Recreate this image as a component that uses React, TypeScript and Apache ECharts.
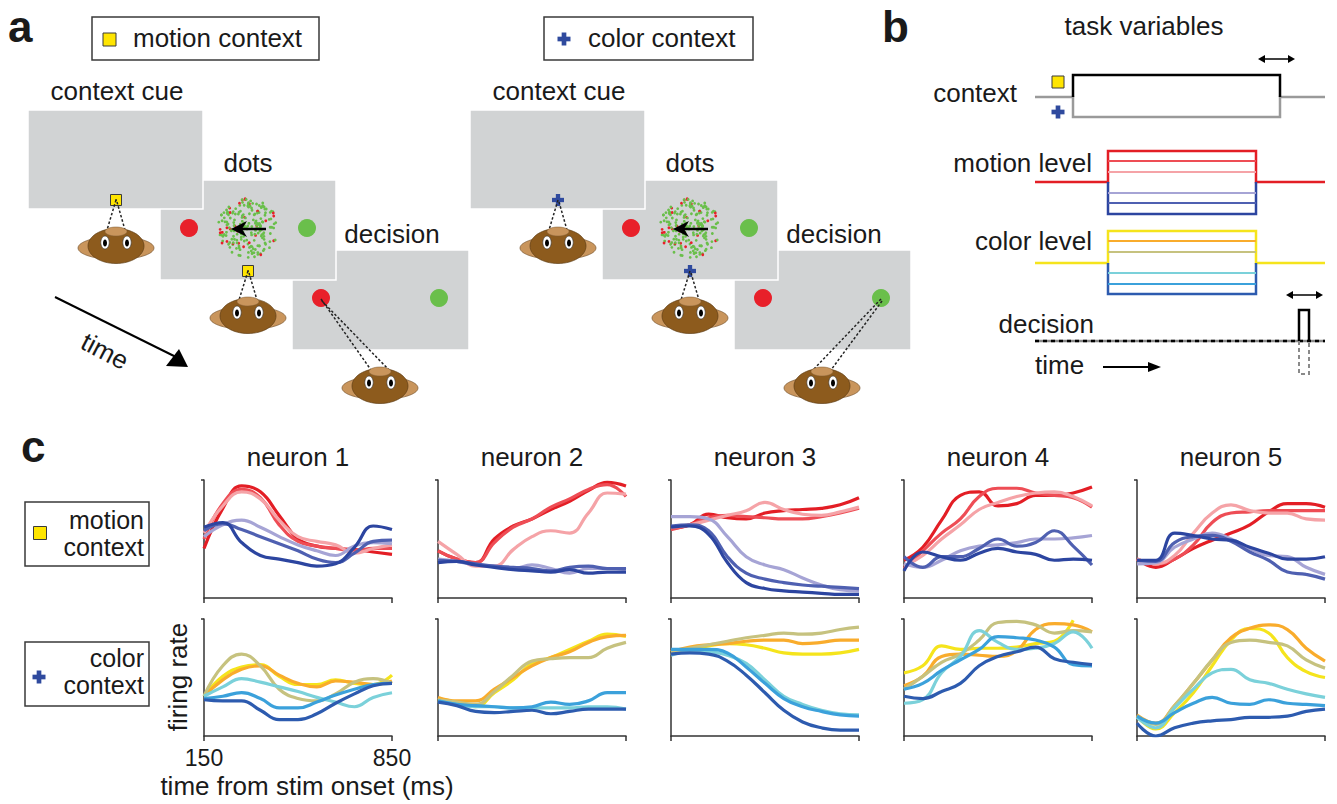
import { useEffect, useRef } from "react";
import * as echarts from "echarts";

const FONT = '"Liberation Sans", Arial, Helvetica, sans-serif';

// time axis shared by every neuron panel (ms from stimulus onset)
const timeMs = [150, 220, 290, 360, 430, 500, 570, 640, 710, 780, 850];
const timeTicks = [150, 850];
const neuronTitles = ["neuron 1", "neuron 2", "neuron 3", "neuron 4", "neuron 5"];

// motion levels: strong red, red, pink, lavender, blue, dark blue
const motionColors = ["#e31e25", "#ee4d55", "#f5a3a7", "#a6a4d5", "#4f60b1", "#2c45a0"];
// color levels: yellow, orange, khaki, cyan, light blue, dark blue
const colorColors = ["#f5e41c", "#f9ac2c", "#c6c27f", "#7bd1da", "#3ba1db", "#2d5baf"];

// normalised firing rate, one row per level (same order as the colours)
const neuron1Motion = [
  [0.42, 0.76, 0.95, 0.9, 0.7, 0.5, 0.44, 0.42, 0.41, 0.39, 0.37],
  [0.5, 0.8, 0.92, 0.85, 0.62, 0.48, 0.44, 0.42, 0.4, 0.42, 0.42],
  [0.55, 0.78, 0.9, 0.84, 0.66, 0.52, 0.48, 0.45, 0.38, 0.42, 0.45],
  [0.52, 0.62, 0.66, 0.6, 0.52, 0.45, 0.4, 0.36, 0.44, 0.47, 0.46],
  [0.57, 0.63, 0.58, 0.52, 0.46, 0.4, 0.33, 0.3, 0.38, 0.48, 0.49],
  [0.6, 0.64, 0.47, 0.36, 0.33, 0.3, 0.27, 0.29, 0.43, 0.61, 0.58],
];
const neuron1Color = [
  [0.34, 0.51, 0.59, 0.61, 0.51, 0.44, 0.44, 0.48, 0.45, 0.44, 0.52],
  [0.34, 0.48, 0.57, 0.6, 0.52, 0.45, 0.42, 0.47, 0.46, 0.44, 0.47],
  [0.34, 0.6, 0.7, 0.6, 0.4, 0.32, 0.3, 0.36, 0.46, 0.49, 0.45],
  [0.34, 0.42, 0.49, 0.46, 0.42, 0.38, 0.33, 0.29, 0.25, 0.33, 0.37],
  [0.32, 0.34, 0.37, 0.32, 0.24, 0.24, 0.29, 0.35, 0.4, 0.44, 0.45],
  [0.31, 0.3, 0.3, 0.22, 0.14, 0.14, 0.19, 0.28, 0.36, 0.43, 0.45],
];
const neuron2Motion = [
  [0.4, 0.33, 0.3, 0.5, 0.61, 0.67, 0.75, 0.82, 0.91, 0.98, 0.95],
  [0.4, 0.33, 0.3, 0.47, 0.6, 0.67, 0.77, 0.84, 0.92, 0.96, 0.86],
  [0.48, 0.37, 0.27, 0.27, 0.41, 0.52, 0.57, 0.55, 0.72, 0.89, 0.88],
  [0.33, 0.31, 0.28, 0.27, 0.25, 0.28, 0.25, 0.21, 0.25, 0.25, 0.24],
  [0.32, 0.31, 0.29, 0.27, 0.26, 0.25, 0.23, 0.26, 0.27, 0.25, 0.25],
  [0.3, 0.31, 0.28, 0.26, 0.24, 0.23, 0.22, 0.24, 0.21, 0.22, 0.22],
];
const neuron2Color = [
  [0.32, 0.29, 0.25, 0.37, 0.48, 0.62, 0.67, 0.74, 0.81, 0.87, 0.85],
  [0.33, 0.3, 0.3, 0.4, 0.5, 0.6, 0.67, 0.72, 0.8, 0.85, 0.86],
  [0.31, 0.29, 0.27, 0.38, 0.52, 0.64, 0.66, 0.67, 0.67, 0.75, 0.8],
  [0.3, 0.27, 0.25, 0.25, 0.24, 0.24, 0.24, 0.24, 0.25, 0.25, 0.23],
  [0.3, 0.27, 0.26, 0.25, 0.24, 0.25, 0.29, 0.27, 0.3, 0.37, 0.37],
  [0.29, 0.26, 0.21, 0.2, 0.21, 0.22, 0.19, 0.21, 0.23, 0.23, 0.23],
];
const neuron3Motion = [
  [0.59, 0.62, 0.71, 0.68, 0.67, 0.72, 0.74, 0.75, 0.76, 0.79, 0.85],
  [0.58, 0.62, 0.68, 0.7, 0.69, 0.68, 0.67, 0.67, 0.69, 0.72, 0.76],
  [0.6, 0.62, 0.66, 0.7, 0.74, 0.81, 0.75, 0.71, 0.7, 0.73, 0.77],
  [0.69, 0.69, 0.67, 0.52, 0.35, 0.28, 0.24, 0.17, 0.11, 0.07, 0.06],
  [0.61, 0.62, 0.57, 0.35, 0.21, 0.16, 0.13, 0.11, 0.1, 0.09, 0.08],
  [0.6, 0.61, 0.54, 0.3, 0.13, 0.08, 0.06, 0.05, 0.04, 0.03, 0.03],
];
const neuron3Color = [
  [0.72, 0.74, 0.77, 0.79, 0.78, 0.75, 0.71, 0.7, 0.7, 0.71, 0.74],
  [0.72, 0.76, 0.78, 0.79, 0.81, 0.82, 0.82, 0.79, 0.8, 0.82, 0.82],
  [0.72, 0.75, 0.78, 0.81, 0.84, 0.86, 0.88, 0.87, 0.88, 0.91, 0.93],
  [0.69, 0.72, 0.72, 0.69, 0.62, 0.48, 0.34, 0.27, 0.22, 0.19, 0.18],
  [0.74, 0.74, 0.74, 0.71, 0.59, 0.45, 0.32, 0.25, 0.21, 0.18, 0.17],
  [0.7, 0.71, 0.7, 0.64, 0.52, 0.37, 0.22, 0.12, 0.07, 0.05, 0.05],
];
const neuron4Motion = [
  [0.32, 0.43, 0.66, 0.87, 0.9, 0.78, 0.8, 0.87, 0.87, 0.89, 0.94],
  [0.25, 0.4, 0.55, 0.67, 0.86, 0.93, 0.93, 0.89, 0.87, 0.85, 0.77],
  [0.27, 0.36, 0.5, 0.62, 0.75, 0.81, 0.86, 0.89, 0.9, 0.86, 0.78],
  [0.29, 0.26, 0.32, 0.4, 0.44, 0.45, 0.47, 0.5, 0.5, 0.51, 0.53],
  [0.35, 0.26, 0.35, 0.35, 0.42, 0.5, 0.44, 0.47, 0.57, 0.44, 0.28],
  [0.23, 0.39, 0.35, 0.32, 0.38, 0.42, 0.39, 0.37, 0.32, 0.33, 0.32],
];
const neuron4Color = [
  [0.54, 0.6, 0.77, 0.74, 0.75, 0.75, 0.76, 0.79, 0.81, 0.99, null],
  [0.43, 0.51, 0.68, 0.7, 0.69, 0.68, 0.73, 0.91, 0.96, 0.95, 0.89],
  [0.4, 0.51, 0.63, 0.7, 0.82, 0.97, 0.98, 0.95, 0.88, 0.9, 0.89],
  [0.28, 0.31, 0.54, 0.68, 0.9, 0.8, 0.74, 0.75, 0.79, 0.89, 0.75],
  [0.4, 0.45, 0.56, 0.65, 0.74, 0.85, 0.84, 0.82, 0.76, 0.61, 0.6],
  [0.34, 0.32, 0.38, 0.45, 0.6, 0.68, 0.72, 0.76, 0.66, 0.63, 0.61],
];
const neuron5Motion = [
  [0.33, 0.26, 0.33, 0.42, 0.49, 0.55, 0.62, 0.73, 0.8, 0.8, 0.77],
  [0.33, 0.29, 0.33, 0.45, 0.64, 0.72, 0.73, 0.74, 0.74, 0.74, 0.74],
  [0.33, 0.29, 0.36, 0.55, 0.72, 0.79, 0.74, 0.72, 0.72, 0.67, 0.66],
  [0.29, 0.3, 0.43, 0.5, 0.55, 0.5, 0.42, 0.36, 0.35, 0.26, 0.2],
  [0.32, 0.31, 0.47, 0.52, 0.53, 0.48, 0.39, 0.32, 0.22, 0.2, 0.16],
  [0.32, 0.32, 0.55, 0.53, 0.5, 0.49, 0.43, 0.38, 0.33, 0.33, 0.35],
];
const neuron5Color = [
  [0.17, 0.06, 0.2, 0.37, 0.6, 0.82, 0.92, 0.88, 0.67, 0.55, 0.5],
  [0.18, 0.11, 0.26, 0.45, 0.65, 0.84, 0.92, 0.95, 0.91, 0.75, 0.64],
  [0.17, 0.1, 0.26, 0.45, 0.65, 0.8, 0.82, 0.8, 0.77, 0.65, 0.58],
  [0.16, 0.07, 0.24, 0.4, 0.54, 0.57, 0.48, 0.45, 0.4, 0.36, 0.33],
  [0.17, 0.11, 0.2, 0.28, 0.33, 0.28, 0.27, 0.31, 0.28, 0.27, 0.26],
  [0.11, 0.0, 0.07, 0.11, 0.13, 0.14, 0.16, 0.16, 0.17, 0.21, 0.23],
];

const motionByNeuron = [neuron1Motion, neuron2Motion, neuron3Motion, neuron4Motion, neuron5Motion];
const colorByNeuron = [neuron1Color, neuron2Color, neuron3Color, neuron4Color, neuron5Color];

// layout of panel c
const gridLefts = [204, 438, 671, 904, 1137];
const gridWidth = 188;
const rowTops = [480, 619];
const rowHeights = [118, 117];

const INK = "#1a1a1a";
const SCREEN = "#d1d3d4";
const RED = "#e8202a";
const GREEN = "#6abf4b";
const YELLOW = "#ffe500";
const CROSS = "#2f4a9e";

const text = (s: string, x: number, y: number, size: number, o: any = {}) => ({
  type: "text",
  x,
  y,
  rotation: o.rot || 0,
  style: {
    text: s,
    x: 0,
    y: 0,
    font: `${o.bold ? "bold " : ""}${size}px ${FONT}`,
    fill: o.fill || INK,
    align: o.align || "center",
    textAlign: o.align || "center",
    verticalAlign: "middle",
    textVerticalAlign: "middle",
  },
});

const rect = (x: number, y: number, w: number, h: number, style: any) => ({
  type: "rect",
  shape: { x, y, width: w, height: h },
  style,
});

const line = (x1: number, y1: number, x2: number, y2: number, stroke: string, lineWidth = 2, lineDash?: number[]) => ({
  type: "line",
  shape: { x1, y1, x2, y2 },
  style: { stroke, lineWidth, lineDash },
});

const poly = (points: number[][], stroke: string, lineWidth = 2.5, lineDash?: number[]) => ({
  type: "polyline",
  shape: { points },
  style: { stroke, lineWidth, fill: null, lineDash, lineJoin: "miter" },
});

const cross = (cx: number, cy: number, s = 13) => [
  rect(cx - s / 2, cy - s * 0.18, s, s * 0.36, { fill: CROSS }),
  rect(cx - s * 0.18, cy - s / 2, s * 0.36, s, { fill: CROSS }),
];

const yellowSquare = (cx: number, cy: number, s = 11, dot = true) => {
  const out: any[] = [rect(cx - s / 2, cy - s / 2, s, s, { fill: YELLOW, stroke: "#3a3a3a", lineWidth: 1 })];
  if (dot) out.push({ type: "circle", shape: { cx, cy, r: 0.9 }, style: { fill: "#222" } });
  return out;
};

const monkey = (cx: number, cy: number) => [
  { type: "ellipse", shape: { cx, cy: cy + 2, rx: 38, ry: 11.5 }, style: { fill: "#c9955c", stroke: "#7d5a35", lineWidth: 0.7 } },
  { type: "ellipse", shape: { cx, cy, rx: 28, ry: 17.5 }, style: { fill: "#8d5b1d", stroke: "#5e3d15", lineWidth: 0.7 } },
  { type: "ellipse", shape: { cx, cy: cy - 14.5, rx: 11, ry: 4.5 }, style: { fill: "#c9955c", stroke: "#7d5a35", lineWidth: 0.5 } },
  { type: "ellipse", shape: { cx: cx - 11, cy: cy - 3.5, rx: 4.2, ry: 6.5 }, style: { fill: "#fff", stroke: "#333", lineWidth: 0.6 } },
  { type: "ellipse", shape: { cx: cx + 11, cy: cy - 3.5, rx: 4.2, ry: 6.5 }, style: { fill: "#fff", stroke: "#333", lineWidth: 0.6 } },
  { type: "ellipse", shape: { cx: cx - 11, cy: cy - 3, rx: 2, ry: 3.6 }, style: { fill: "#000" } },
  { type: "ellipse", shape: { cx: cx + 11, cy: cy - 3, rx: 2, ry: 3.6 }, style: { fill: "#000" } },
];

const sight = (fx: number, fy: number, cx: number, cy: number) => [
  line(fx, fy, cx - 9, cy - 16, "#222", 1.5, [2.5, 2]),
  line(fx + 1, fy + 2, cx + 9, cy - 16, "#222", 1.5, [2.5, 2]),
];

const screen = (x: number, y: number, w: number, h: number) =>
  rect(x, y, w, h, { fill: SCREEN, stroke: "#fff", lineWidth: 1.5 });

// scattered-dot stimulus: fixed hash so the picture is the same every time
const hash = (k: number) => {
  const s = Math.sin(k * 12.9898 + 78.233) * 43758.5453;
  return s - Math.floor(s);
};
const dotCloud = (cx: number, cy: number) => {
  const out: any[] = [];
  const n = 210;
  for (let i = 0; i < n; i++) {
    const r = 30 * Math.sqrt(hash(i * 3 + 1));
    const th = 2 * Math.PI * hash(i * 3 + 2);
    const red = hash(i * 3 + 3) < 0.15;
    out.push({
      type: "circle",
      shape: { cx: cx + r * Math.cos(th), cy: cy + r * Math.sin(th), r: 1.4 },
      style: { fill: red ? RED : GREEN },
    });
  }
  return out;
};

const arrowLeft = (x1: number, x2: number, y: number) => [
  line(x1, y, x2 + 8, y, "#000", 2.5),
  { type: "polygon", shape: { points: [[x2, y], [x2 + 16, y - 8], [x2 + 11, y], [x2 + 16, y + 8]] }, style: { fill: "#000" } },
];

const doubleArrow = (x1: number, x2: number, y: number) => [
  line(x1 + 4, y, x2 - 4, y, "#000", 1.5),
  { type: "polygon", shape: { points: [[x1, y], [x1 + 7, y - 4], [x1 + 7, y + 4]] }, style: { fill: "#000" } },
  { type: "polygon", shape: { points: [[x2, y], [x2 - 7, y - 4], [x2 - 7, y + 4]] }, style: { fill: "#000" } },
];

function taskPanel(dx: number, motion: boolean) {
  const e: any[] = [];
  const fix = (x: number, y: number) => (motion ? yellowSquare(x, y) : cross(x, y, 12));
  // decision screen (back)
  e.push(screen(292 + dx, 250, 177, 100));
  e.push({ type: "circle", shape: { cx: 321 + dx, cy: 298, r: 9 }, style: { fill: RED } });
  e.push({ type: "circle", shape: { cx: 439 + dx, cy: 298, r: 9 }, style: { fill: GREEN } });
  // dots screen
  e.push(screen(160 + dx, 180, 176, 100));
  e.push({ type: "circle", shape: { cx: 189 + dx, cy: 228, r: 9 }, style: { fill: RED } });
  e.push({ type: "circle", shape: { cx: 307 + dx, cy: 228, r: 9 }, style: { fill: GREEN } });
  e.push(...dotCloud(248 + dx, 228));
  e.push(...arrowLeft(266 + dx, 231 + dx, 229));
  e.push(...fix(248 + dx, 271));
  // context cue screen (front)
  e.push(screen(28 + dx, 110, 175, 99));
  e.push(...fix(116 + dx, 200));
  // monkeys and lines of sight
  e.push(...sight(116 + dx, 200, 116 + dx, 246));
  e.push(...monkey(116 + dx, 246));
  e.push(...sight(248 + dx, 271, 248 + dx, 316));
  e.push(...monkey(248 + dx, 316));
  const tx = motion ? 321 : 439;
  e.push(...sight(tx + dx, 299, 380 + dx, 386));
  e.push(...monkey(380 + dx, 386));
  // labels
  e.push(text("context cue", 117 + dx, 91, 26));
  e.push(text("dots", 248 + dx, 163, 26));
  e.push(text("decision", 392 + dx, 234, 26));
  return e;
}

function panelB() {
  const e: any[] = [];
  e.push(text("b", 882, 26, 44, { bold: true, align: "left" }));
  e.push(text("task variables", 1144, 26, 26));
  e.push(...doubleArrow(1258, 1295, 59));
  // context
  e.push(text("context", 1017, 93, 26, { align: "right" }));
  e.push(poly([[1035, 97], [1073, 97], [1073, 117], [1280, 117], [1280, 97], [1325, 97]], "#9a9a9a"));
  e.push(poly([[1073, 97], [1073, 75], [1280, 75], [1280, 97]], "#000"));
  e.push(...yellowSquare(1058, 82, 12, false));
  e.push(...cross(1058, 112, 13));
  // motion level
  e.push(text("motion level", 1092, 163, 26, { align: "right" }));
  const mY = [151, 161, 172, 193, 203, 214];
  e.push(poly([[1035, 182], [1108, 182], [1108, 151], [1256, 151], [1256, 182], [1325, 182]], motionColors[0]));
  e.push(poly([[1108, 182], [1108, 214], [1256, 214], [1256, 182]], motionColors[5]));
  mY.forEach((y, i) => e.push(line(1108, y, 1256, y, motionColors[i], 2.2)));
  // color level
  e.push(text("color level", 1092, 241, 26, { align: "right" }));
  const cY = [231, 241, 252, 273, 284, 294];
  e.push(poly([[1035, 263], [1108, 263], [1108, 231], [1256, 231], [1256, 263], [1325, 263]], colorColors[0]));
  e.push(poly([[1108, 263], [1108, 294], [1256, 294], [1256, 263]], colorColors[5]));
  cY.forEach((y, i) => e.push(line(1108, y, 1256, y, colorColors[i], 2.2)));
  // decision
  e.push(text("decision", 1094, 324, 26, { align: "right" }));
  e.push(line(1035, 341, 1325, 341, "#8a8a8a", 2.5));
  e.push(line(1035, 341, 1325, 341, "#000", 2.5, [4, 4]));
  e.push(poly([[1299, 341], [1299, 374], [1309, 374], [1309, 341]], "#8a8a8a", 2, [4, 3]));
  e.push(poly([[1299, 341], [1299, 310], [1309, 310], [1309, 341]], "#000"));
  e.push(...doubleArrow(1286, 1323, 295));
  // time
  e.push(text("time", 1035, 365, 26, { align: "left" }));
  e.push(line(1103, 367, 1150, 367, "#000", 1.8));
  e.push({ type: "polygon", shape: { points: [[1161, 367], [1148, 362], [1148, 372]] }, style: { fill: "#000" } });
  return e;
}

function panelA() {
  const e: any[] = [];
  e.push(text("a", 8, 26, 44, { bold: true, align: "left" }));
  e.push(rect(92, 17, 227, 43, { fill: "#fff", stroke: "#3a3a3a", lineWidth: 1.5 }));
  e.push(...yellowSquare(109.5, 39.5, 13, false));
  e.push(text("motion context", 133, 38, 26, { align: "left" }));
  e.push(rect(544, 17, 209, 43, { fill: "#fff", stroke: "#3a3a3a", lineWidth: 1.5 }));
  e.push(...cross(564, 39, 13));
  e.push(text("color context", 588, 38, 26, { align: "left" }));
  e.push(...taskPanel(0, true));
  e.push(...taskPanel(442, false));
  // time arrow
  e.push(line(55, 297, 176, 357, "#000", 2));
  e.push({ type: "polygon", shape: { points: [[188, 367], [166, 366], [179, 349]] }, style: { fill: "#000" } });
  e.push(text("time", 105, 351, 26, { rot: -0.48 }));
  return e;
}

function panelCLabels() {
  const e: any[] = [];
  e.push(text("c", 21, 446, 44, { bold: true, align: "left" }));
  neuronTitles.forEach((t, i) => e.push(text(t, gridLefts[i] + gridWidth / 2, 457, 26)));
  e.push(rect(25, 502, 124, 64, { fill: "#fff", stroke: "#3a3a3a", lineWidth: 1.5 }));
  e.push(...yellowSquare(40, 533, 13, false));
  e.push(text("motion", 144, 520, 25, { align: "right" }));
  e.push(text("context", 144, 547, 25, { align: "right" }));
  e.push(rect(25, 642, 124, 64, { fill: "#fff", stroke: "#3a3a3a", lineWidth: 1.5 }));
  e.push(...cross(39, 677, 13));
  e.push(text("color", 144, 658, 25, { align: "right" }));
  e.push(text("context", 144, 685, 25, { align: "right" }));
  e.push(text("firing rate", 178, 677, 26, { rot: Math.PI / 2 }));
  e.push(text("time from stim onset (ms)", 307, 786, 26));
  return e;
}

function buildOption(): echarts.EChartsOption {
  const grid: any[] = [];
  const xAxis: any[] = [];
  const yAxis: any[] = [];
  const series: any[] = [];
  const axisStyle = { color: "#333", width: 1.5 };
  for (let r = 0; r < 2; r++) {
    for (let n = 0; n < 5; n++) {
      const gi = r * 5 + n;
      grid.push({
        left: gridLefts[n],
        top: rowTops[r],
        width: gridWidth,
        height: rowHeights[r],
        containLabel: false,
        outerBoundsMode: "none",
      });
      xAxis.push({
        gridIndex: gi,
        type: "value",
        min: 150,
        max: 850,
        axisLine: { show: true, lineStyle: axisStyle },
        axisTick: { show: true, customValues: timeTicks, length: 5, lineStyle: axisStyle },
        axisLabel: {
          show: gi === 5,
          customValues: timeTicks,
          fontSize: 23,
          color: INK,
          fontFamily: FONT,
          margin: 10,
        },
        splitLine: { show: false },
      });
      yAxis.push({
        gridIndex: gi,
        type: "value",
        min: 0,
        max: 1,
        axisLine: { show: true, lineStyle: axisStyle },
        axisTick: { show: true, customValues: [1], length: 3, lineStyle: axisStyle },
        axisLabel: { show: false },
        splitLine: { show: false },
      });
      const rows = r === 0 ? motionByNeuron[n] : colorByNeuron[n];
      const colors = r === 0 ? motionColors : colorColors;
      rows.forEach((vals, k) => {
        series.push({
          type: "line",
          xAxisIndex: gi,
          yAxisIndex: gi,
          data: timeMs.map((t, i) => [t, vals[i]]),
          smooth: 0.45,
          showSymbol: false,
          symbol: "none",
          silent: true,
          lineStyle: { color: colors[k], width: 3.2 },
        });
      });
    }
  }
  return {
    animation: false,
    backgroundColor: "#fff",
    grid,
    xAxis,
    yAxis,
    series,
    graphic: { elements: [...panelA(), ...panelB(), ...panelCLabels()] },
  } as any;
}

export default function App() {
  const chartRef = useRef<HTMLDivElement>(null);

  useEffect(() => {
    document.body.style.margin = "0";
    if (!chartRef.current) return;
    const chart = echarts.init(chartRef.current, null, { renderer: "svg" });
    chart.setOption(buildOption());
    return () => {
      chart.dispose();
    };
  }, []);

  return <div ref={chartRef} style={{ width: 1337, height: 804, background: "#fff" }} />;
}
